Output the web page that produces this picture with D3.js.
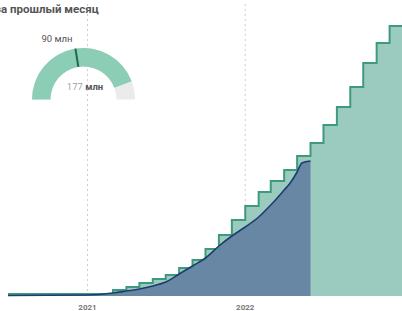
<!DOCTYPE html>
<html lang="ru">
<head>
  <meta charset="UTF-8">
  <title>Step chart</title>
  <script src="https://d3js.org/d3.v7.min.js"></script>
  <style>
    body { margin: 0; background: #fff; }
    text { font-family: Roboto, "Noto Sans", sans-serif; }
  </style>
</head>
<body>
  <svg width="402" height="311"></svg>

  <script>
    // monthly plan (step line)
    var stepMonths = ["2020-07","2020-08","2020-09","2020-10","2020-11","2020-12",
      "2021-01","2021-02","2021-03","2021-04","2021-05","2021-06","2021-07","2021-08",
      "2021-09","2021-10","2021-11","2021-12","2022-01","2022-02","2022-03","2022-04",
      "2022-05","2022-06","2022-07","2022-08","2022-09","2022-10","2022-11","2022-12"];
    var stepValues = [2, 2, 2, 2, 2, 2, 2, 2, 6, 9, 13, 17, 21, 28, 36, 47, 61, 76,
      90, 104, 115, 126, 140, 153, 171, 189, 209, 233, 253, 270];

    // actual (dark area)
    var factDates = ["2020-07-01","2021-01-01","2021-03-01","2021-04-01","2021-05-01",
      "2021-06-01","2021-07-01","2021-08-01","2021-09-01","2021-10-01","2021-11-01",
      "2021-12-01","2022-01-01","2022-02-01","2022-03-01","2022-04-01","2022-04-15",
      "2022-05-01","2022-05-12","2022-06-01"];
    var factValues = [0.5, 1, 3, 5, 7, 10, 14, 22, 30, 38, 50, 60, 69, 79, 91, 106, 113,
      124, 133, 135];

    var yearTicks = ["2021-01-01", "2022-01-01"];

    // gauge
    var gaugeMax = 200;
    var gaugeValue = 177;
    var gaugeMark = 90;
    var title = "за прошлый месяц";

    var parse = d3.timeParse("%Y-%m-%d");
    var svg = d3.select("svg");

    var x = d3.scaleTime()
        .domain([parse("2020-07-01"), parse("2023-01-01")])
        .range([8, 403]);
    var y = d3.scaleLinear().domain([0, 296]).range([296, 0]);

    var steps = stepMonths.map((m, i) => ({ date: parse(m + "-01"), value: stepValues[i] }));
    steps.push({ date: parse("2023-01-01"), value: stepValues[stepValues.length - 1] });
    var fact = factDates.map((d, i) => ({ date: parse(d), value: factValues[i] }));

    // gridlines
    svg.append("g").selectAll("line")
        .data(yearTicks.map(parse))
        .enter().append("line")
        .attr("x1", d => x(d)).attr("x2", d => x(d))
        .attr("y1", 4).attr("y2", y(0))
        .attr("stroke", "#cfcfcf")
        .attr("stroke-width", 1)
        .attr("stroke-dasharray", "2,3");

    // step area
    var stepArea = d3.area()
        .curve(d3.curveStepAfter)
        .x(d => x(d.date))
        .y0(y(0))
        .y1(d => y(d.value));
    svg.append("path")
        .datum(steps)
        .attr("d", stepArea)
        .attr("fill", "#9bcbbf");

    // fact area
    var factArea = d3.area()
        .curve(d3.curveMonotoneX)
        .x(d => x(d.date))
        .y0(y(0))
        .y1(d => y(d.value));
    svg.append("path")
        .datum(fact)
        .attr("d", factArea)
        .attr("fill", "#6787a4");

    // step line
    var stepLine = d3.line()
        .curve(d3.curveStepAfter)
        .x(d => x(d.date))
        .y(d => y(d.value));
    svg.append("path")
        .datum(steps)
        .attr("d", stepLine)
        .attr("fill", "none")
        .attr("stroke", "#3e9a7e")
        .attr("stroke-width", 2);

    // fact line
    svg.append("path")
        .datum(fact)
        .attr("d", d3.line().curve(d3.curveMonotoneX).x(d => x(d.date)).y(d => y(d.value)))
        .attr("fill", "none")
        .attr("stroke", "#1f3c6e")
        .attr("stroke-width", 1.6);

    // x axis labels
    svg.append("g").selectAll("text")
        .data(yearTicks.map(parse))
        .enter().append("text")
        .attr("x", d => x(d))
        .attr("y", 310)
        .attr("text-anchor", "middle")
        .attr("font-size", 8)
        .attr("font-weight", "bold")
        .attr("fill", "#777")
        .text(d => d3.timeFormat("%Y")(d));

    // title
    svg.append("text")
        .attr("x", -5)
        .attr("y", 13)
        .attr("font-size", 11.5)
        .attr("font-weight", "bold")
        .attr("fill", "#555")
        .text(title);

    // gauge
    var g = svg.append("g").attr("transform", "translate(83.5,99.5)");
    var ang = d3.scaleLinear().domain([0, gaugeMax]).range([-Math.PI / 2, Math.PI / 2]);
    var arc = d3.arc().innerRadius(33).outerRadius(51.5);
    g.append("path")
        .attr("d", arc({ startAngle: ang(0), endAngle: ang(gaugeMax) }))
        .attr("fill", "#ebebeb");
    g.append("path")
        .attr("d", arc({ startAngle: ang(0), endAngle: ang(gaugeValue) }))
        .attr("fill", "#8ccdb5");
    var a = ang(gaugeMark);
    g.append("line")
        .attr("x1", 33 * Math.sin(a)).attr("y1", -33 * Math.cos(a))
        .attr("x2", 51.5 * Math.sin(a)).attr("y2", -51.5 * Math.cos(a))
        .attr("stroke", "#1e6b4c")
        .attr("stroke-width", 2);

    svg.append("text")
        .attr("x", 57).attr("y", 42)
        .attr("text-anchor", "middle")
        .attr("font-size", 9.5)
        .attr("fill", "#555")
        .text(gaugeMark + " млн");

    var t = svg.append("text")
        .attr("x", 85).attr("y", 90)
        .attr("text-anchor", "middle")
        .attr("font-size", 9.5);
    t.append("tspan").attr("fill", "#9aa8a6").text(gaugeValue + " ");
    t.append("tspan").attr("fill", "#555").attr("font-weight", "bold").text("млн");
  </script>
</body>
</html>
